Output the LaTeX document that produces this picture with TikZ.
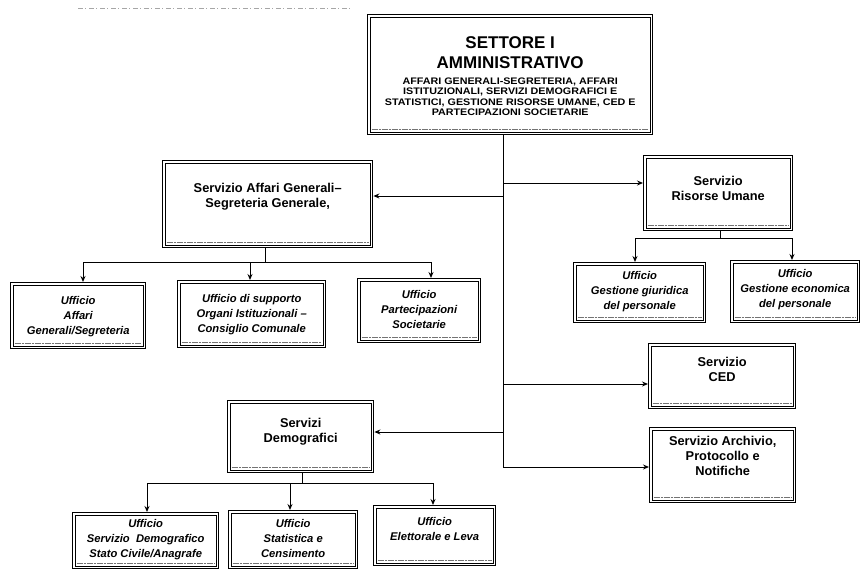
\documentclass[tikz,border=0pt]{standalone}
\usepackage{fontspec}
\setmainfont{Liberation Sans}
\newfontfamily\widefont[FakeStretch=1.13]{Liberation Sans}
\usetikzlibrary{arrows.meta,calc}
\begin{document}
\begin{tikzpicture}[x=1pt,y=-1pt,
  box/.style={draw, line width=1.4pt, inner sep=0pt, anchor=north west,
    path picture={\draw[line width=0.5pt]
      ([shift={(2.8pt,-2.8pt)}]path picture bounding box.north west) rectangle
      ([shift={(-2.8pt,2.8pt)}]path picture bounding box.south east);
      \draw[black!55, line width=1.3pt, dash pattern=on 6pt off 1pt on 2pt off 1pt]
      ([shift={(4pt,5pt)}]path picture bounding box.south west) --
      ([shift={(-4pt,5pt)}]path picture bounding box.south east);}},
  svc/.style={font=\fontsize{12.8}{15}\selectfont\bfseries, align=center, inner sep=0pt},
  uff/.style={font=\fontsize{11.2}{15}\selectfont\bfseries\itshape, align=center, inner sep=0pt},
  ln/.style={line width=1pt},
  arr/.style={line width=1pt, -{Stealth[length=6pt,width=5pt]}}]
\useasboundingbox (0,0) rectangle (862,579);
\fill[white] (0,0) rectangle (862,579);
% faint scan header
\draw[black!35, line width=0.6pt, dash pattern=on 5pt off 2pt on 1pt off 3pt] (78,8) -- (350,8);

% boxes
\node[box, minimum width=285pt, minimum height=120pt] (top) at (367,14) {};
\node[box, minimum width=210pt, minimum height=87pt] (ag) at (162,160) {};
\node[box, minimum width=135pt, minimum height=66pt] (u1) at (10,282) {};
\node[box, minimum width=148pt, minimum height=67pt] (u2) at (177,280) {};
\node[box, minimum width=123pt, minimum height=64pt] (u3) at (357,278) {};
\node[box, minimum width=149pt, minimum height=75pt] (ru) at (643,155) {};
\node[box, minimum width=132pt, minimum height=60pt] (u4) at (573,262) {};
\node[box, minimum width=129pt, minimum height=62pt] (u5) at (730,260) {};
\node[box, minimum width=147pt, minimum height=65pt] (ced) at (648,343) {};
\node[box, minimum width=146pt, minimum height=75pt] (arc) at (649,427) {};
\node[box, minimum width=146pt, minimum height=72pt] (dem) at (227,400) {};
\node[box, minimum width=146pt, minimum height=56pt] (u6) at (72,512) {};
\node[box, minimum width=129pt, minimum height=58pt] (u7) at (228,510) {};
\node[box, minimum width=122pt, minimum height=60pt] (u8) at (373,505) {};

% texts
\node[align=center, inner sep=0pt, font=\fontsize{17}{20}\selectfont\bfseries]
  (tTitle) at ([yshift=22pt]top.center) {SETTORE I\\AMMINISTRATIVO};
\node[align=center, inner sep=0pt, font=\widefont\fontsize{9.5}{10.5}\selectfont\bfseries]
  (tSub) at ([yshift=-22pt]top.center) {AFFARI GENERALI-SEGRETERIA, AFFARI\\ISTITUZIONALI, SERVIZI DEMOGRAFICI E\\STATISTICI, GESTIONE RISORSE UMANE, CED E\\PARTECIPAZIONI SOCIETARIE};
\node[svc] (tAg) at ([yshift=7.5pt]ag.center) {Servizio Affari Generali–\\Segreteria Generale,};
\node[svc] (tRu) at ([yshift=4.5pt]ru.center) {Servizio\\Risorse Umane};
\node[svc] (tCed) at ([yshift=7pt]ced.center) {Servizio\\CED};
\node[svc] (tArc) at ([yshift=9pt]arc.center) {Servizio Archivio,\\Protocollo e\\Notifiche};
\node[svc] (tDem) at ([yshift=5pt]dem.center) {Servizi\\Demografici};
\node[uff] (tU1) at ([yshift=-1pt]u1.center) {Ufficio\\Affari\\Generali/Segreteria};
\node[uff] (tU2) at (u2.center) {Ufficio di supporto\\Organi Istituzionali –\\Consiglio Comunale};
\node[uff] (tU3) at ([yshift=1pt]u3.center) {Ufficio\\Partecipazioni\\Societarie};
\node[uff] (tU4) at ([yshift=1pt]u4.center) {Ufficio\\Gestione giuridica\\del personale};
\node[uff] (tU5) at ([yshift=2pt]u5.center) {Ufficio\\Gestione economica\\del personale};
\node[uff] (tU6) at ([yshift=1pt]u6.center) {Ufficio\\Servizio~~Demografico\\Stato Civile/Anagrafe};
\node[uff] (tU7) at ([yshift=1.5pt]u7.center) {Ufficio\\Statistica e\\Censimento};
\node[uff] (tU8) at ([yshift=7pt]u8.center) {Ufficio\\Elettorale e Leva};

% trunk
\coordinate (jRU) at (503,183);
\coordinate (jAG) at (503,196);
\coordinate (jCED) at (503,384);
\coordinate (jDEM) at (503,432);
\coordinate (jARC) at (503,467);
\draw[ln] (top.south -| jRU) -- (jARC);
\draw[arr] (jRU) -- (jRU -| ru.west);
\draw[arr] (jAG) -- (jAG -| ag.east);
\draw[arr] (jCED) -- (jCED -| ced.west);
\draw[arr] (jDEM) -- (jDEM -| dem.east);
\draw[arr] (jARC) -- (jARC -| arc.west);

% Affari Generali branch
\coordinate (bAG) at (265,262);
\coordinate (b1) at (83,262);
\coordinate (b2) at (250,262);
\coordinate (b3) at (431,262);
\draw[ln] (ag.south -| bAG) -- (bAG);
\draw[ln] (b1) -- (b3);
\draw[arr] (b1) -- (b1 |- u1.north);
\draw[arr] (b2) -- (b2 |- u2.north);
\draw[arr] (b3) -- (b3 |- u3.north);

% Risorse Umane branch
\coordinate (bRU) at (720,238);
\coordinate (r1) at (635,238);
\coordinate (r2) at (792,238);
\draw[ln] (ru.south -| bRU) -- (bRU);
\draw[ln] (r1) -- (r2);
\draw[arr] (r1) -- (r1 |- u4.north);
\draw[arr] (r2) -- (r2 |- u5.north);

% Demografici branch
\coordinate (bDEM) at (302,483);
\coordinate (d1) at (147,483);
\coordinate (d2) at (290,483);
\coordinate (d3) at (433,483);
\draw[ln] (dem.south -| bDEM) -- (bDEM);
\draw[ln] (d1) -- (d3);
\draw[arr] (d1) -- (d1 |- u6.north);
\draw[arr] (d2) -- (d2 |- u7.north);
\draw[arr] (d3) -- (d3 |- u8.north);
\end{tikzpicture}
\end{document}
